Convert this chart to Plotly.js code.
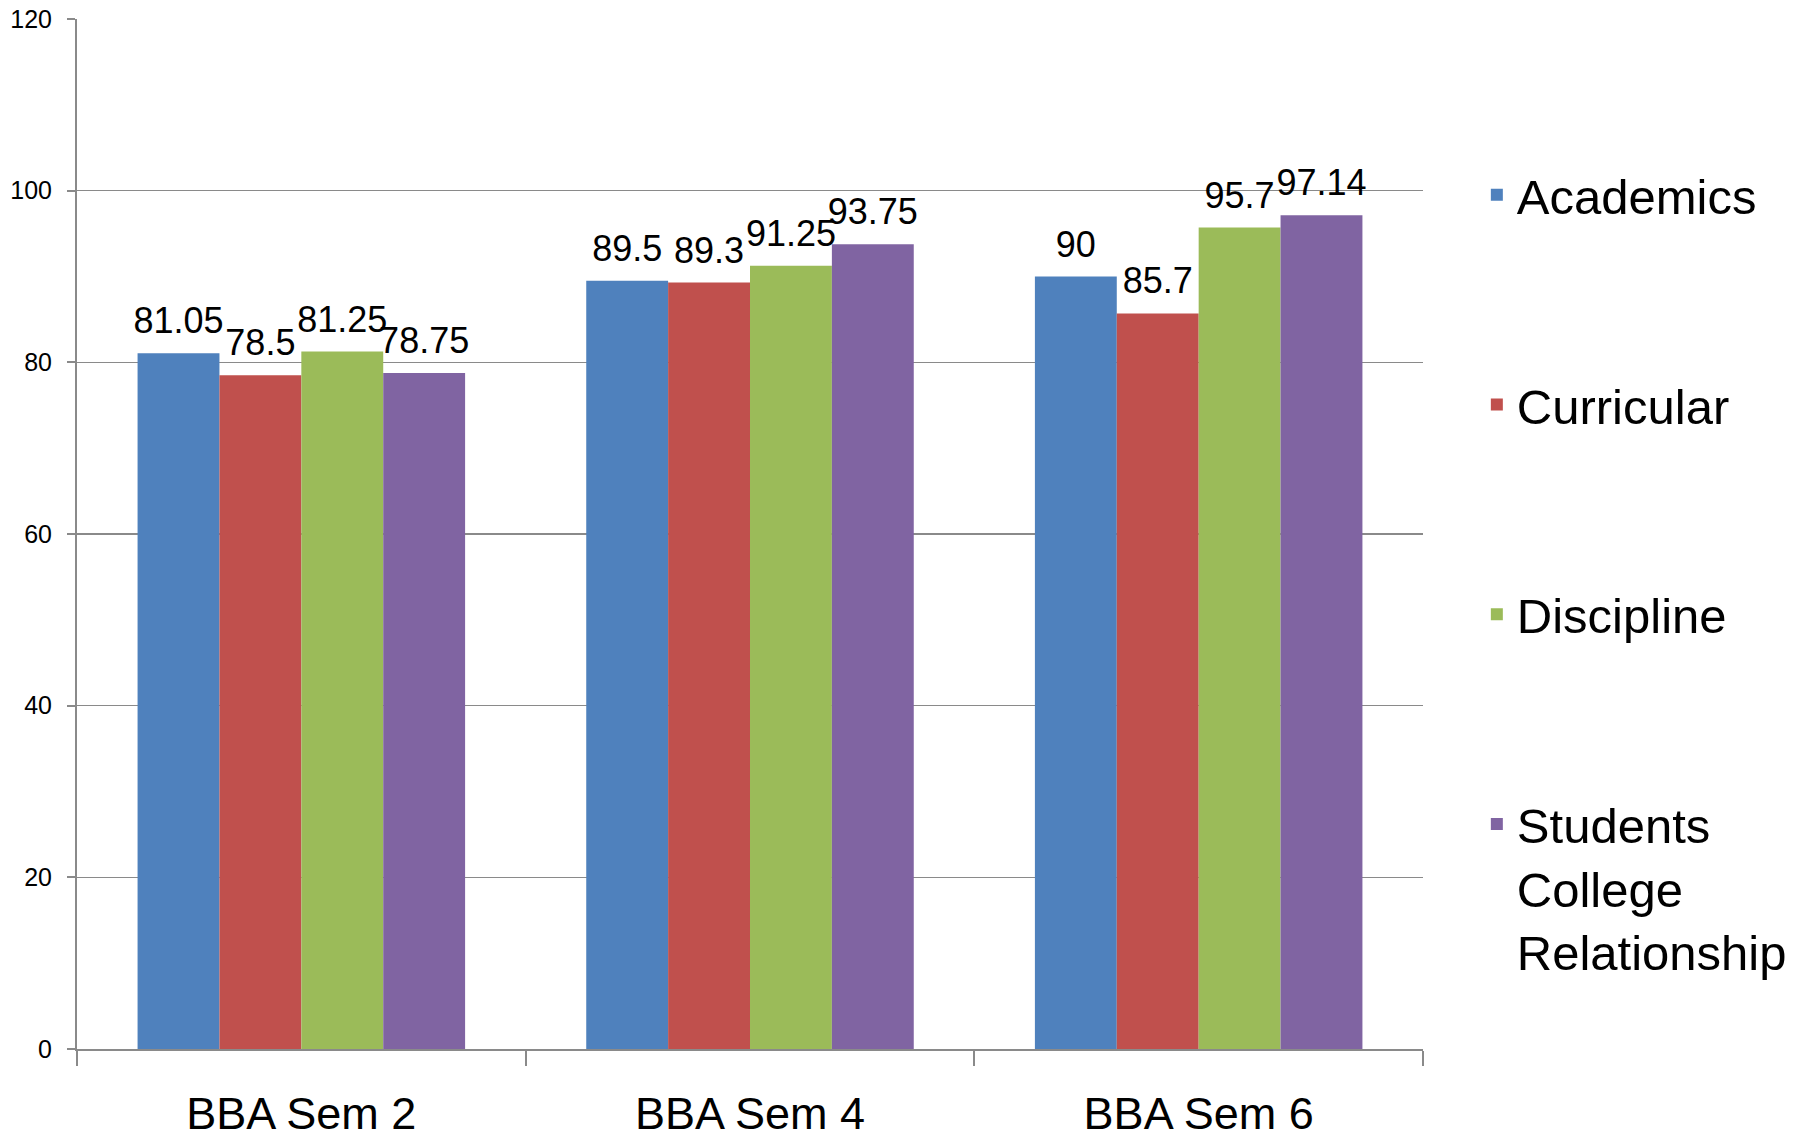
<!DOCTYPE html>
<html>
<head>
<meta charset="utf-8">
<script src="https://cdn.plot.ly/plotly-3.0.1.min.js"></script>
<style>html,body{margin:0;padding:0;background:#fff;}#chart{width:1804px;height:1142px;}</style>
</head>
<body>
<div id="chart"></div>
<script>
const categories = ["BBA Sem 2", "BBA Sem 4", "BBA Sem 6"];
const seriesNames = ["Academics", "Curricular", "Discipline", "Students<br>College<br>Relationship"];
const academics = [81.05, 89.5, 90];
const curricular = [78.5, 89.3, 85.7];
const discipline = [81.25, 91.25, 95.7];
const relationship = [78.75, 93.75, 97.14];
const colors = ["#4F81BD", "#C0504D", "#9BBB59", "#8064A2"];
const yTicks = [0, 20, 40, 60, 80, 100, 120];

const allValues = [academics, curricular, discipline, relationship];
const barTraces = allValues.map((vals, i) => ({
  type: "bar",
  name: seriesNames[i],
  legendgroup: "g" + i,
  offsetgroup: "s" + i,
  x: categories,
  y: vals,
  marker: {color: colors[i], line: {width: 0}},
  hoverinfo: "skip"
}));
const labelTraces = allValues.map((vals, i) => ({
  type: "scatter",
  mode: "markers+text",
  orientation: "v",
  offsetgroup: "s" + i,
  legendgroup: "g" + i,
  showlegend: false,
  x: categories,
  y: vals,
  text: vals.map(v => String(v)),
  textposition: "top center",
  textfont: {size: 36, color: "#000"},
  marker: {size: 16, opacity: 0},
  cliponaxis: false,
  hoverinfo: "skip"
}));

const gray = "#8a8a8a";
const layout = {
  width: 1804, height: 1142,
  margin: {l: 77, r: 381, t: 19, b: 93, pad: 0},
  paper_bgcolor: "#fff", plot_bgcolor: "#fff",
  font: {family: "Liberation Sans, Arial, sans-serif", color: "#000"},
  barmode: "group", bargap: 0.27, bargroupgap: 0,
  scattermode: "group", scattergap: 0.27,
  showlegend: true,
  legend: {
    x: 1.04, xanchor: "left", y: 0.8665, yanchor: "top",
    font: {size: 49, color: "#000"},
    tracegroupgap: 143, traceorder: "grouped",
    bgcolor: "rgba(0,0,0,0)", borderwidth: 0,
    valign: "top"
  },
  xaxis: {
    type: "category",
    tickson: "boundaries", ticks: "outside", ticklen: 15, tickwidth: 2, tickcolor: gray,
    showline: true, linecolor: gray, linewidth: 2,
    showgrid: false, zeroline: false,
    tickfont: {size: 45, color: "#000"},
    ticklabelstandoff: 24
  },
  yaxis: {
    range: [0, 120], tickvals: yTicks, ticktext: yTicks.map(String),
    ticks: "outside", ticklen: 8, tickwidth: 2, tickcolor: gray,
    showline: true, linecolor: gray, linewidth: 2,
    showgrid: true, gridcolor: gray, gridwidth: 1.5,
    zeroline: false,
    tickfont: {size: 25, color: "#000"},
    ticklabelstandoff: 10
  }
};

Plotly.newPlot("chart", barTraces.concat(labelTraces), layout, {displayModeBar: false, staticPlot: true});
</script>
</body>
</html>
